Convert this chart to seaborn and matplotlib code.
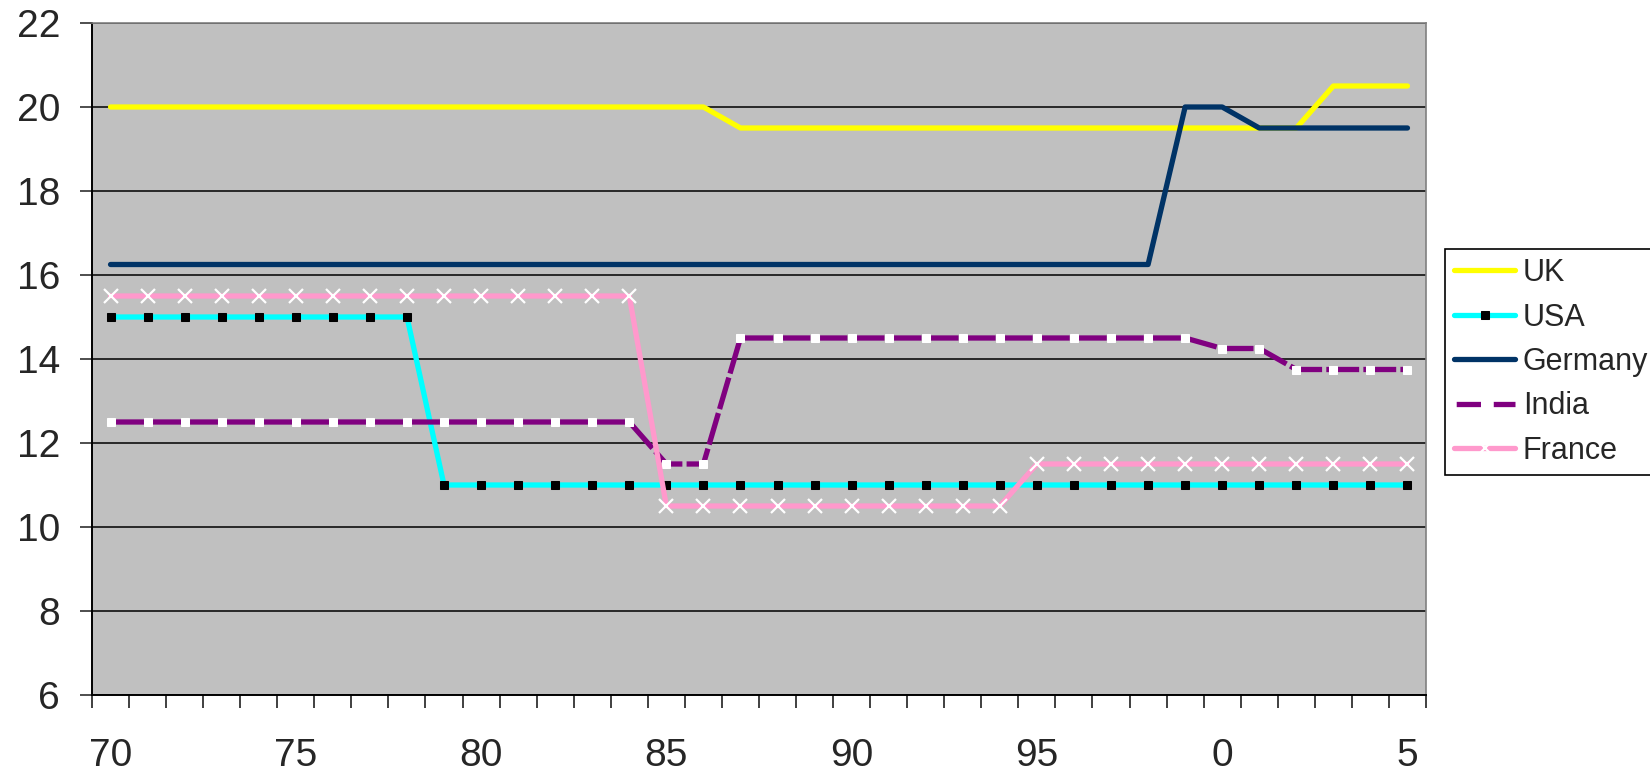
import matplotlib
matplotlib.use("Agg")
import matplotlib.pyplot as plt
import seaborn as sns
import numpy as np
import pandas as pd

# category axis: 1970 .. 2005
years = [1970, 1971, 1972, 1973, 1974, 1975, 1976, 1977, 1978, 1979,
         1980, 1981, 1982, 1983, 1984, 1985, 1986, 1987, 1988, 1989,
         1990, 1991, 1992, 1993, 1994, 1995, 1996, 1997, 1998, 1999,
         2000, 2001, 2002, 2003, 2004, 2005]
year_labels = ["70", "75", "80", "85", "90", "95", "0", "5"]

uk = [20, 20, 20, 20, 20, 20, 20, 20, 20, 20, 20, 20, 20, 20, 20, 20, 20,
      19.5, 19.5, 19.5, 19.5, 19.5, 19.5, 19.5, 19.5, 19.5, 19.5, 19.5, 19.5,
      19.5, 19.5, 19.5, 19.5, 20.5, 20.5, 20.5]
usa = [15, 15, 15, 15, 15, 15, 15, 15, 15,
       11, 11, 11, 11, 11, 11, 11, 11, 11, 11, 11, 11, 11, 11, 11, 11, 11, 11,
       11, 11, 11, 11, 11, 11, 11, 11, 11]
germany = [16.25, 16.25, 16.25, 16.25, 16.25, 16.25, 16.25, 16.25, 16.25,
           16.25, 16.25, 16.25, 16.25, 16.25, 16.25, 16.25, 16.25, 16.25,
           16.25, 16.25, 16.25, 16.25, 16.25, 16.25, 16.25, 16.25, 16.25,
           16.25, 16.25, 20, 20, 19.5, 19.5, 19.5, 19.5, 19.5]
india = [12.5, 12.5, 12.5, 12.5, 12.5, 12.5, 12.5, 12.5, 12.5, 12.5, 12.5,
         12.5, 12.5, 12.5, 12.5, 11.5, 11.5, 14.5, 14.5, 14.5, 14.5, 14.5,
         14.5, 14.5, 14.5, 14.5, 14.5, 14.5, 14.5, 14.5, 14.25, 14.25,
         13.75, 13.75, 13.75, 13.75]
france = [15.5, 15.5, 15.5, 15.5, 15.5, 15.5, 15.5, 15.5, 15.5, 15.5, 15.5,
          15.5, 15.5, 15.5, 15.5, 10.5, 10.5, 10.5, 10.5, 10.5, 10.5, 10.5,
          10.5, 10.5, 10.5, 11.5, 11.5, 11.5, 11.5, 11.5, 11.5, 11.5, 11.5,
          11.5, 11.5, 11.5]

df = pd.DataFrame({"pos": np.arange(len(years)), "year": years, "UK": uk,
                   "USA": usa, "Germany": germany, "India": india,
                   "France": france})

sns.set_style("white")
plt.rcParams["font.family"] = ["Liberation Sans", "DejaVu Sans"]

fig = plt.figure(figsize=(16.5, 7.71), dpi=100)
ax = fig.add_axes([92 / 1650, 1 - 695 / 771, (1426 - 92) / 1650, (695 - 23) / 771])
ax.set_facecolor("#C0C0C0")

lw = 3.8
sns.lineplot(data=df, x="pos", y="UK", ax=ax, color="#FFFF00", lw=lw,
             label="UK", solid_capstyle="round")
sns.lineplot(data=df, x="pos", y="USA", ax=ax, color="#00FFFF", lw=lw,
             marker="s", markersize=5.5, markerfacecolor="black",
             markeredgecolor="black", label="USA")
sns.lineplot(data=df, x="pos", y="Germany", ax=ax, color="#003366", lw=lw,
             label="Germany", solid_capstyle="round")
sns.lineplot(data=df, x="pos", y="India", ax=ax, color="#800080", lw=lw,
             marker="s", markersize=5.5, markerfacecolor="white",
             markeredgecolor="white", label="India")
sns.lineplot(data=df, x="pos", y="France", ax=ax, color="#FF99CC", lw=lw,
             marker="x", markersize=10, markeredgecolor="white",
             markeredgewidth=1.6, label="France")

# long dash for India, one dash per category so the gaps sit under markers
for line in ax.lines:
    if line.get_label() == "India":
        line.set_linestyle((6.6, (6.22, 0.8)))

ax.set_xlim(-0.5, len(years) - 0.5)
ax.set_ylim(6, 22)
ax.set_yticks(np.arange(6, 23, 2))
ax.set_yticklabels([str(v) for v in range(6, 23, 2)])
ax.set_xticks(np.arange(0, len(years), 5))
ax.set_xticklabels(year_labels)
ax.set_xticks(np.arange(-0.5, len(years), 1), minor=True)
ax.tick_params(axis="x", which="major", length=0, pad=31, labelsize=28)
ax.tick_params(axis="x", which="minor", length=9, width=1.2, color="#202020",
               direction="out", bottom=True)
ax.tick_params(axis="y", length=9, width=1.2, color="#303030", direction="out",
               left=True, labelsize=28, pad=14)
ax.grid(axis="y", color="black", lw=1.1)
ax.grid(axis="x", visible=False)
ax.set_xlabel("")
ax.set_ylabel("")

for side in ["top", "right"]:
    ax.spines[side].set_color("#808080")
    ax.spines[side].set_linewidth(1.2)
for side in ["left", "bottom"]:
    ax.spines[side].set_color("black")
    ax.spines[side].set_linewidth(1.4)

ax.legend_.remove()
handles, labels = ax.get_legend_handles_labels()
leg = fig.legend(handles, labels, loc="upper left",
                 bbox_to_anchor=(1445 / 1650, 1 - 249 / 771),
                 fontsize=22, frameon=True, fancybox=False, edgecolor="black",
                 framealpha=1, handlelength=2.0, handletextpad=0.25,
                 labelspacing=0.47, borderpad=0.3, borderaxespad=0)
leg.get_frame().set_linewidth(1.2)

fig.savefig("out.png", dpi=100)
